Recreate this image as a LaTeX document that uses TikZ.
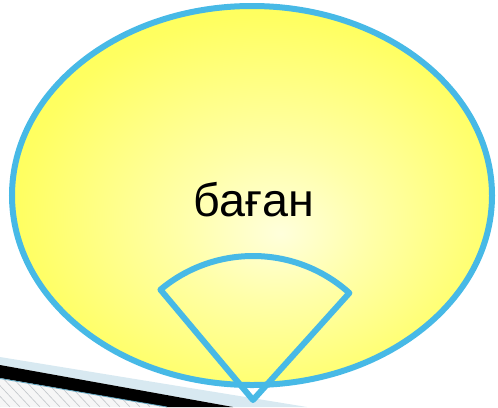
\documentclass[tikz,border=0pt]{standalone}
\usepackage{fontspec}
\setmainfont{Liberation Sans}
\usepackage{tikz}
\definecolor{bordo}{HTML}{47B9E6}
\definecolor{fascia}{HTML}{D8E9F1}
\definecolor{tratto}{HTML}{C4C8CC}
\definecolor{fondo}{HTML}{F6F6F6}
\pgfdeclareradialshading{sole}{\pgfpoint{3bp}{-5bp}}{%
  rgb(0bp)=(1,1,0.86);
  rgb(10bp)=(1,1,0.66);
  rgb(26bp)=(1,1,0.38);
  rgb(50bp)=(1,1,0.18)}

\begin{document}
\begin{tikzpicture}[x=0.75pt,y=-0.75pt]
\useasboundingbox (0,0) rectangle (498,407);

% Fasce in basso a sinistra
\fill[fascia] (0,357) -- (307,407) -- (233,407) -- (0,365) -- cycle;
\fill[black] (0,365) -- (233,407) -- (167,407) -- (0,378) -- cycle;
\fill[fondo] (0,379) -- (166,407) -- (0,407) -- cycle;
\begin{scope}
    \clip (0,379) -- (166,407) -- (0,407) -- cycle;
    \foreach \x in {-40,-30,...,170}
        \draw[tratto,line width=0.5pt] (\x,375) -- (\x+30,407);
\end{scope}
\draw[bordo!60!gray,line width=0.6pt] (0,378.5) -- (167,407);

% Ellisse
\shade[shading=sole,draw=bordo,line width=4.5pt]
    (252,195.5) ellipse [x radius=240, y radius=189.5];

% Settore
\coordinate (apice) at (253,400);
\draw[bordo,line width=4.5pt,line join=round]
    (apice) -- ++(-130:144) arc[start angle=-130, end angle=-48, radius=144] -- cycle;

\node (parola) at (254,200) {\fontsize{35}{42}\selectfont баған};
\end{tikzpicture}
\end{document}
